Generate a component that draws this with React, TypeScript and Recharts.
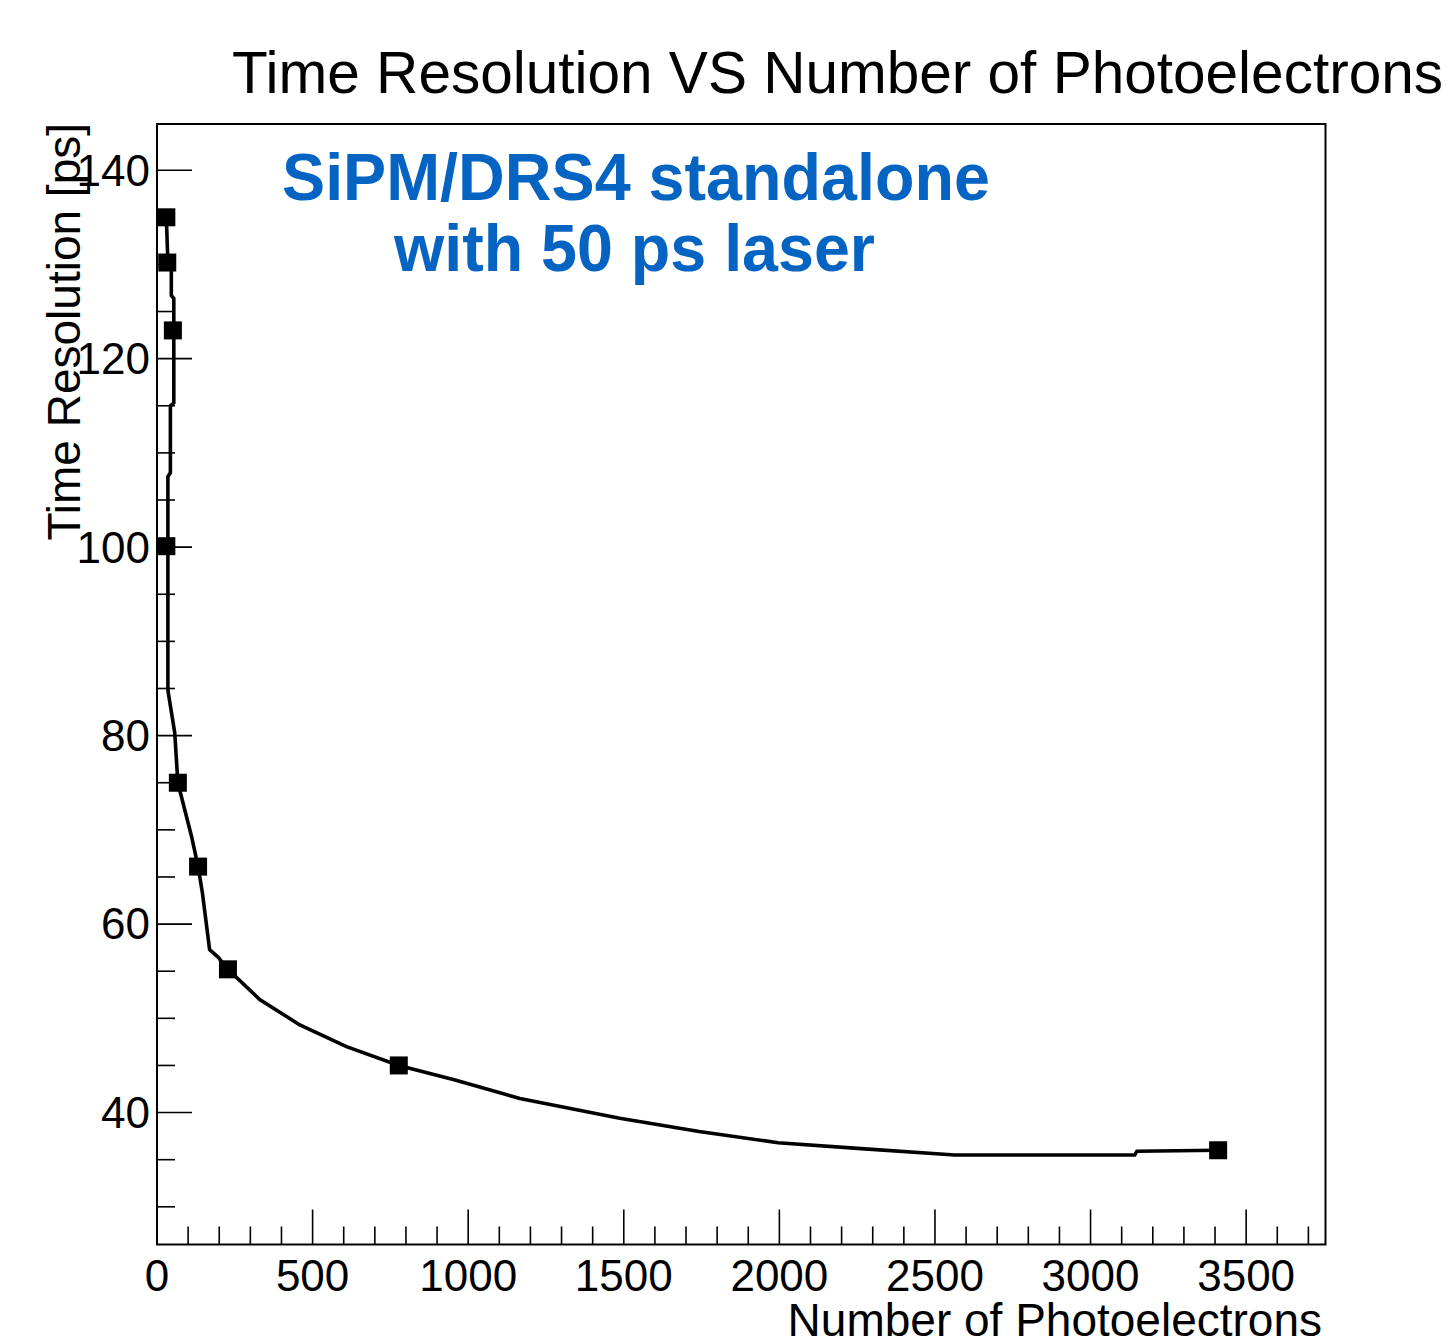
import React from 'react'
import { ComposedChart, Line, Scatter, XAxis, YAxis, ReferenceArea } from 'recharts'

// measured points (square markers)
const markerX = [30, 33, 51, 30, 67, 132, 228, 777, 3410]
const markerY = [135.0, 130.2, 123.0, 100.1, 75.0, 66.1, 55.2, 45.0, 36.0]

// the drawn smooth curve
const curveX = [30, 35, 46, 46, 54, 54, 54, 43, 43, 35, 35, 35, 57, 67, 111, 132, 146, 169, 196, 228, 330, 459, 609, 777, 952, 1166, 1487, 1742, 1996, 2251, 2563, 3142, 3149, 3410]
const curveY = [135.0, 130.2, 129.3, 126.7, 126.4, 123.0, 115.3, 115.0, 107.9, 107.5, 100.1, 84.8, 80.3, 75.0, 69.3, 66.1, 63.3, 57.3, 56.5, 55.2, 52.0, 49.3, 47.0, 45.0, 43.5, 41.5, 39.4, 38.0, 36.8, 36.2, 35.5, 35.5, 35.9, 36.0]

const xTicks = [0, 100, 200, 300, 400, 500, 600, 700, 800, 900, 1000, 1100, 1200, 1300, 1400, 1500, 1600, 1700, 1800, 1900, 2000, 2100, 2200, 2300, 2400, 2500, 2600, 2700, 2800, 2900, 3000, 3100, 3200, 3300, 3400, 3500, 3600, 3700]
const xLabels = [0, 500, 1000, 1500, 2000, 2500, 3000, 3500]
const yTicks = [30, 35, 40, 45, 50, 55, 60, 65, 70, 75, 80, 85, 90, 95, 100, 105, 110, 115, 120, 125, 130, 135, 140]
const yLabels = [40, 60, 80, 100, 120, 140]

const markers = markerX.map((x, i) => ({ x, y: markerY[i] }))
const curve = curveX.map((x, i) => ({ x, y: curveY[i] }))

const FONT = '"Liberation Sans", Arial, Helvetica, sans-serif'

const XTick = (props: any) => {
    const { x, y, payload } = props
    const major = xLabels.includes(payload.value)
    return (
        <g>
            <line x1={x} y1={y} x2={x} y2={y - (major ? 35 : 18)} stroke="#000" strokeWidth={1.6} />
            {major && (
                <text x={x} y={y + 46} textAnchor="middle" fontSize={44} fontFamily={FONT} fill="#000">
                    {payload.value}
                </text>
            )}
        </g>
    )
}

const YTick = (props: any) => {
    const { x, y, payload } = props
    const major = yLabels.includes(payload.value)
    return (
        <g>
            <line x1={x} y1={y} x2={x + (major ? 35 : 18)} y2={y} stroke="#000" strokeWidth={1.6} />
            {major && (
                <text x={x - 7} y={y} dy="0.35em" textAnchor="end" fontSize={44} fontFamily={FONT} fill="#000">
                    {payload.value}
                </text>
            )}
        </g>
    )
}

const Square = (props: any) => {
    const { cx, cy } = props
    return <rect x={cx - 9} y={cy - 9} width={18} height={18} fill="#000" />
}

export default function App() {
    return (
        <div style={{ position: 'absolute', left: 0, top: 0, width: 1449, height: 1339, background: '#fff' }}>
            <ComposedChart
                width={1449}
                height={1339}
                margin={{ top: 124, right: 123.5, bottom: 34.5, left: 77 }}
            >
                <XAxis
                    type="number"
                    dataKey="x"
                    domain={[0, 3755]}
                    allowDataOverflow
                    ticks={xTicks}
                    interval={0}
                    height={60}
                    tickSize={0}
                    tickMargin={0}
                    tickLine={false}
                    axisLine={false}
                    tick={<XTick />}
                />
                <YAxis
                    type="number"
                    dataKey="y"
                    domain={[26, 144.9]}
                    allowDataOverflow
                    ticks={yTicks}
                    interval={0}
                    width={80}
                    tickSize={0}
                    tickMargin={0}
                    tickLine={false}
                    axisLine={false}
                    tick={<YTick />}
                />
                <ReferenceArea x1={0} x2={3755} y1={26} y2={144.9} fill="none" stroke="#000" strokeWidth={2} />
                <Line
                    data={curve}
                    dataKey="y"
                    type="linear"
                    stroke="#000"
                    strokeWidth={3.6}
                    dot={false}
                    activeDot={false}
                    isAnimationActive={false}
                />
                <Scatter data={markers} dataKey="y" fill="#000" shape={<Square />} isAnimationActive={false} />
            </ComposedChart>
            <svg
                width={1449}
                height={1339}
                style={{ position: 'absolute', left: 0, top: 0, pointerEvents: 'none' }}
            >
                <text x={232} y={93} fontSize={60} fontFamily={FONT} fill="#000" textLength={1211} lengthAdjust="spacingAndGlyphs">
                    Time Resolution VS Number of Photoelectrons
                </text>
                <text x={282} y={200} fontSize={66} fontWeight="bold" fontFamily={FONT} fill="#0563C1" textLength={708} lengthAdjust="spacingAndGlyphs">
                    SiPM/DRS4 standalone
                </text>
                <text x={394} y={271} fontSize={66} fontWeight="bold" fontFamily={FONT} fill="#0563C1" textLength={481} lengthAdjust="spacingAndGlyphs">
                    with 50 ps laser
                </text>
                <text x={80} y={123} transform="rotate(-90, 80, 123)" textAnchor="end" fontSize={46} fontFamily={FONT} fill="#000">
                    Time Resolution [ps]
                </text>
                <text x={1322} y={1336} textAnchor="end" fontSize={46} fontFamily={FONT} fill="#000">
                    Number of Photoelectrons
                </text>
            </svg>
        </div>
    )
}
